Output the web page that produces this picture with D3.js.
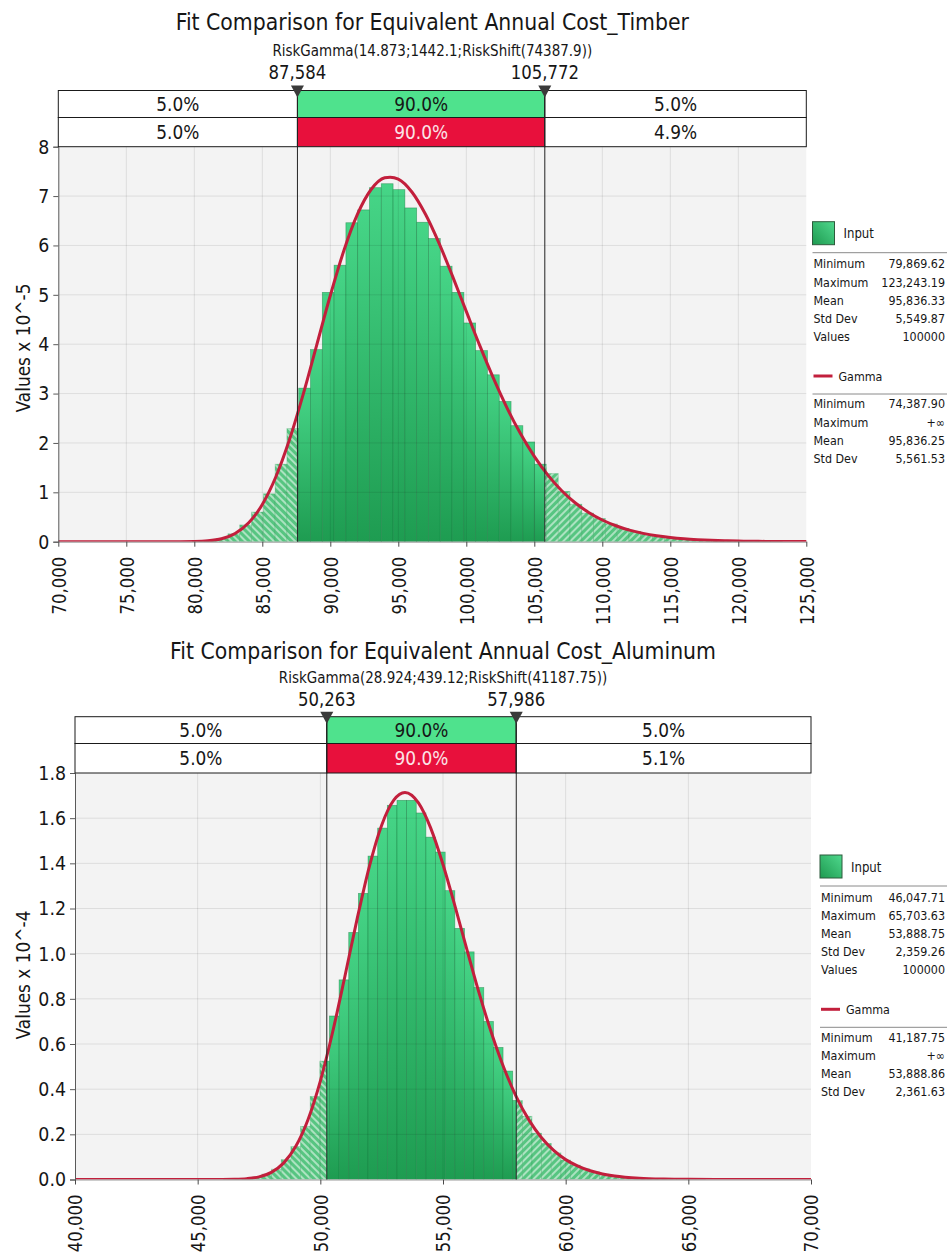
<!DOCTYPE html>
<html><head><meta charset="utf-8">
<script src="https://cdn.jsdelivr.net/npm/d3@7/dist/d3.min.js"></script>
<style>
body{margin:0;background:#fff;}
svg{display:block;}
text{font-family:"DejaVu Sans",Tahoma,Verdana,sans-serif;fill:#161616;}
</style>
</head><body>
<svg id="c" width="947" height="1255"></svg>
<script>
// ===================== DATA =====================
// ---- Timber ----
const timberTitle = "Fit Comparison for Equivalent Annual Cost_Timber";
const timberSubtitle = "RiskGamma(14.873;1442.1;RiskShift(74387.9))";
const timberMarkers = [87584, 105772];
const timberMarkerLabels = ["87,584", "105,772"];
const timberInputPct = ["5.0%", "90.0%", "5.0%"];
const timberFitPct = ["5.0%", "90.0%", "4.9%"];
const timberXTicks = [70000, 75000, 80000, 85000, 90000, 95000, 100000, 105000, 110000, 115000, 120000, 125000];
const timberYTicks = [0, 1, 2, 3, 4, 5, 6, 7, 8];
const timberYLabel = "Values x 10^-5";
const timberBinRange = [79869.62, 123243.19];
const timberBars = [0.01, 0.02, 0.06, 0.16, 0.34, 0.60, 0.97, 1.57, 2.29, 3.11,
  3.89, 5.05, 5.60, 6.46, 6.72, 7.17, 7.25, 7.13, 6.76, 6.47,
  6.14, 5.58, 5.05, 4.43, 3.87, 3.38, 2.84, 2.35, 2.02, 1.57,
  1.38, 1.02, 0.76, 0.58, 0.47, 0.36, 0.27, 0.21, 0.15, 0.11,
  0.085, 0.06, 0.045, 0.033, 0.024, 0.017, 0.012, 0.008, 0.006, 0.004];
const timberGammaX = [70000, 71000, 72000, 73000, 74000, 75000, 76000, 77000, 78000, 79000,
  80000, 81000, 82000, 83000, 84000, 85000, 86000, 87000, 88000, 89000,
  90000, 91000, 92000, 93000, 94000, 94400, 95000, 96000, 97000, 98000, 99000,
  100000, 101000, 102000, 103000, 104000, 105000, 106000, 107000, 108000, 109000,
  110000, 111000, 112000, 113000, 114000, 115000, 116000, 117000, 118000, 119000,
  120000, 121000, 122000, 123000, 124000, 125000];
const timberGammaY = [0, 0, 0, 0, 0, 0, 0, 0, 0, 0.0005,
  0.0035, 0.017, 0.060, 0.167, 0.382, 0.754, 1.315, 2.068, 2.979, 3.982,
  4.986, 5.898, 6.633, 7.133, 7.370, 7.383, 7.344, 7.083, 6.631, 6.042, 5.369,
  4.664, 3.965, 3.307, 2.707, 2.180, 1.727, 1.348, 1.038, 0.789, 0.592,
  0.440, 0.323, 0.234, 0.169, 0.120, 0.085, 0.059, 0.041, 0.028, 0.019,
  0.013, 0.009, 0.006, 0.004, 0.003, 0.002];
const timberInputStats = [["Minimum", "79,869.62"], ["Maximum", "123,243.19"], ["Mean", "95,836.33"], ["Std Dev", "5,549.87"], ["Values", "100000"]];
const timberGammaStats = [["Minimum", "74,387.90"], ["Maximum", "+\u221E"], ["Mean", "95,836.25"], ["Std Dev", "5,561.53"]];

// ---- Aluminum ----
const aluTitle = "Fit Comparison for Equivalent Annual Cost_Aluminum";
const aluSubtitle = "RiskGamma(28.924;439.12;RiskShift(41187.75))";
const aluMarkers = [50263, 57986];
const aluMarkerLabels = ["50,263", "57,986"];
const aluInputPct = ["5.0%", "90.0%", "5.0%"];
const aluFitPct = ["5.0%", "90.0%", "5.1%"];
const aluXTicks = [40000, 45000, 50000, 55000, 60000, 65000, 70000];
const aluYTicks = [0, 0.2, 0.4, 0.6, 0.8, 1.0, 1.2, 1.4, 1.6, 1.8];
const aluYLabel = "Values x 10^-4";
const aluBinRange = [46047.71, 65703.63];
const aluBars = [0.001, 0.002, 0.004, 0.011, 0.024, 0.046, 0.088, 0.146, 0.235, 0.368,
  0.524, 0.724, 0.884, 1.094, 1.267, 1.432, 1.556, 1.657, 1.679, 1.679,
  1.623, 1.516, 1.450, 1.279, 1.112, 1.008, 0.850, 0.700, 0.585, 0.480,
  0.350, 0.280, 0.205, 0.160, 0.118, 0.086, 0.064, 0.047, 0.034, 0.024,
  0.016, 0.011, 0.008, 0.005, 0.0035, 0.002, 0.0015, 0.001, 0.0006, 0.0004];
const aluGammaX = [40000, 42000, 44000, 45000, 46000, 46500, 47000, 47500, 48000, 48500,
  49000, 49500, 50000, 50500, 51000, 51500, 52000, 52500, 53000, 53450,
  54000, 54500, 55000, 55500, 56000, 56500, 57000, 57500, 58000, 58500,
  59000, 59500, 60000, 60500, 61000, 61500, 62000, 63000, 64000, 65000, 67000, 70000];
const aluGammaY = [0, 0, 0, 0, 0.0002, 0.0009, 0.0036, 0.0116, 0.0314, 0.0725,
  0.147, 0.266, 0.436, 0.652, 0.899, 1.154, 1.387, 1.569, 1.681, 1.714,
  1.668, 1.556, 1.395, 1.206, 1.008, 0.815, 0.641, 0.489, 0.364, 0.264,
  0.187, 0.130, 0.088, 0.059, 0.0385, 0.0247, 0.0156, 0.0059, 0.002, 0.0007, 0.0001, 0];
const aluInputStats = [["Minimum", "46,047.71"], ["Maximum", "65,703.63"], ["Mean", "53,888.75"], ["Std Dev", "2,359.26"], ["Values", "100000"]];
const aluGammaStats = [["Minimum", "41,187.75"], ["Maximum", "+\u221E"], ["Mean", "53,888.86"], ["Std Dev", "2,361.63"]];

// ===================== LAYOUT =====================
const SX = 0.87;
const layoutTimber = {x0: 58.3, x1: 806.3, yTop: 146.7, yBot: 541.7, boxTop: 90.5, boxMid: 117.5,
  titleY: 30, subY: 56, markY: 79, legendX: 812.5, legendTop: 221.7, yLabelX: 23, yLabelY: 348, yFmt: d3.format("d")};
const layoutAlu = {x0: 75, x1: 811, yTop: 773, yBot: 1179.5, boxTop: 716.7, boxMid: 743.5,
  titleY: 659, subY: 683, markY: 706, legendX: 820, legendTop: 855, yLabelX: 23, yLabelY: 975, yFmt: d3.format(".1f")};

const svg = d3.select("#c");
const defs = svg.append("defs");

const grad = defs.append("linearGradient").attr("id", "barGrad")
  .attr("x1", 0).attr("y1", 0).attr("x2", 0).attr("y2", 1);
grad.append("stop").attr("offset", "0%").attr("stop-color", "#46d587");
grad.append("stop").attr("offset", "100%").attr("stop-color", "#1e9c51");

const lgrad = defs.append("linearGradient").attr("id", "legGrad")
  .attr("x1", 1).attr("y1", 0).attr("x2", 0).attr("y2", 1);
lgrad.append("stop").attr("offset", "0%").attr("stop-color", "#4fd88d");
lgrad.append("stop").attr("offset", "100%").attr("stop-color", "#1e9a50");

function hatch(id, angle) {
  const p = defs.append("pattern").attr("id", id).attr("patternUnits", "userSpaceOnUse")
    .attr("width", 5).attr("height", 5).attr("patternTransform", `rotate(${angle})`);
  p.append("rect").attr("width", 5).attr("height", 5).attr("fill", "#57c581");
  p.append("line").attr("x1", 1).attr("y1", -1).attr("x2", 1).attr("y2", 6)
    .attr("stroke", "#ffffff").attr("stroke-width", 1.2).attr("stroke-opacity", 0.85);
}
hatch("hatchL", -45);
hatch("hatchR", 45);

function txt(sel, x, y, s, size, anchor, rot) {
  return sel.append("text")
    .attr("transform", `translate(${x},${y})${rot ? " rotate(" + rot + ")" : ""} scale(${SX},1)`)
    .attr("font-size", size).attr("text-anchor", anchor || "start").text(s);
}

function drawChart(id, L, d) {
  const g = svg.append("g");
  const x = d3.scaleLinear().domain([d.xTicks[0], d.xTicks[d.xTicks.length - 1]]).range([L.x0, L.x1]);
  const y = d3.scaleLinear().domain([0, d.yTicks[d.yTicks.length - 1]]).range([L.yBot, L.yTop]);
  const xm0 = x(d.markers[0]), xm1 = x(d.markers[1]);

  const clip = (cid, a, b) => defs.append("clipPath").attr("id", cid).append("rect")
    .attr("x", a).attr("y", L.yTop).attr("width", b - a).attr("height", L.yBot - L.yTop);
  clip(id + "-mid", xm0, xm1);
  clip(id + "-left", L.x0, xm0);
  clip(id + "-right", xm1, L.x1);
  clip(id + "-all", L.x0, L.x1 + 2);

  // titles
  txt(g, (L.x0 + L.x1) / 2, L.titleY, d.title, 23.5, "middle");
  txt(g, (L.x0 + L.x1) / 2, L.subY, d.subtitle, 15.5, "middle");

  // plot background
  g.append("rect").attr("x", L.x0).attr("y", L.yTop).attr("width", L.x1 - L.x0)
    .attr("height", L.yBot - L.yTop).attr("fill", "#f3f3f3");

  // bars
  const n = d.bars.length;
  const bw = (d.binRange[1] - d.binRange[0]) / n;
  const bins = d.bars.map((v, i) => ({a: d.binRange[0] + i * bw, b: d.binRange[0] + (i + 1) * bw, v}));
  const drawBars = (clipId, fill, stroke) => {
    g.append("g").attr("clip-path", `url(#${clipId})`)
      .selectAll("rect").data(bins).join("rect")
      .attr("x", b => x(b.a)).attr("width", b => x(b.b) - x(b.a))
      .attr("y", b => y(b.v)).attr("height", b => y(0) - y(b.v))
      .attr("fill", fill).attr("stroke", stroke).attr("stroke-width", 0.7);
  };
  drawBars(id + "-mid", "url(#barGrad)", "rgba(20,120,60,0.55)");
  drawBars(id + "-left", "url(#hatchL)", "rgba(40,150,80,0.35)");
  drawBars(id + "-right", "url(#hatchR)", "rgba(40,150,80,0.35)");

  // grid
  g.append("g").selectAll("line").data(d.xTicks.slice(1, -1)).join("line")
    .attr("x1", v => x(v)).attr("x2", v => x(v)).attr("y1", L.yTop).attr("y2", L.yBot)
    .attr("stroke", "#000").attr("stroke-opacity", 0.09);
  g.append("g").selectAll("line").data(d.yTicks.slice(1, -1)).join("line")
    .attr("x1", L.x0).attr("x2", L.x1).attr("y1", v => y(v)).attr("y2", v => y(v))
    .attr("stroke", "#000").attr("stroke-opacity", 0.09);

  // gamma curve
  const line = d3.line().x(p => x(p[0])).y(p => y(p[1])).curve(d3.curveMonotoneX);
  g.append("path").datum(d.gammaX.map((v, i) => [v, d.gammaY[i]]))
    .attr("clip-path", `url(#${id}-all)`)
    .attr("d", line).attr("fill", "none").attr("stroke", "#c21f3c").attr("stroke-width", 3)
    .attr("stroke-linejoin", "round");

  // axes
  const ya = g.append("g").attr("transform", `translate(${L.x0},0)`)
    .call(d3.axisLeft(y).tickValues(d.yTicks).tickFormat(L.yFmt).tickSize(5).tickPadding(6));
  ya.select(".domain").attr("stroke", "#5a5a5a");
  ya.selectAll(".tick line").attr("stroke", "#5a5a5a");
  ya.selectAll(".tick text").attr("font-size", 20).attr("font-family", "DejaVu Sans, Tahoma, sans-serif")
    .attr("fill", "#161616").attr("transform", `scale(${SX},1)`).attr("x", -9 / SX);

  const xa = g.append("g").attr("transform", `translate(0,${L.yBot})`)
    .call(d3.axisBottom(x).tickValues(d.xTicks).tickFormat(d3.format(",")).tickSize(5).tickSizeOuter(0));
  xa.select(".domain").attr("stroke", "#9a9a9a");
  xa.selectAll(".tick line").attr("stroke", "#4a4a4a");
  xa.selectAll(".tick text").attr("font-size", 19).attr("font-family", "DejaVu Sans, Tahoma, sans-serif")
    .attr("fill", "#161616").attr("text-anchor", "end")
    .attr("transform", `rotate(-90) scale(${SX},1)`)
    .attr("x", -15 / SX).attr("y", 0).attr("dy", "0.36em");

  // y label
  txt(g, L.yLabelX, L.yLabelY, d.yLabel, 19.5, "middle", -90).attr("dominant-baseline", "central");

  // percent box
  const segs = [[L.x0, xm0], [xm0, xm1], [xm1, L.x1]];
  const rows = [[L.boxTop, L.boxMid, d.inputPct], [L.boxMid, L.yTop, d.fitPct]];
  rows.forEach((r, ri) => {
    segs.forEach((s, si) => {
      g.append("rect").attr("x", s[0]).attr("y", r[0]).attr("width", s[1] - s[0]).attr("height", r[1] - r[0])
        .attr("fill", si === 1 ? (ri === 0 ? "#4fe28d" : "#e8103c") : "#ffffff")
        .attr("stroke", "#1a1a1a").attr("stroke-width", 1);
      const t = txt(g, (s[0] + s[1]) / 2, (r[0] + r[1]) / 2 + 7, r[2][si], 19.5, "middle");
      if (si === 1 && ri === 1) t.style("fill", "#fbe3e7");
    });
  });

  // marker lines, triangles, labels
  d.markers.forEach((m, i) => {
    const xm = x(m);
    g.append("line").attr("x1", xm).attr("x2", xm).attr("y1", L.boxTop).attr("y2", L.yBot)
      .attr("stroke", "#222").attr("stroke-width", 1);
    g.append("path").attr("d", `M${xm - 6.5},${L.boxTop - 5} L${xm + 6.5},${L.boxTop - 5} L${xm},${L.boxTop + 7} Z`)
      .attr("fill", "#3a3a3a");
    txt(g, xm, L.markY, d.markerLabels[i], 19, "middle");
  });

  // legend
  const lx = L.legendX, T = L.legendTop;
  g.append("rect").attr("x", lx).attr("y", T).attr("width", 22).attr("height", 23)
    .attr("fill", "url(#legGrad)").attr("stroke", "#2d5b3c").attr("stroke-width", 1);
  txt(g, lx + 31, T + 16.5, "Input", 13.5, "start");
  g.append("line").attr("x1", lx).attr("x2", 947).attr("y1", T + 31).attr("y2", T + 31).attr("stroke", "#8a8a8a");
  d.inputStats.forEach((s, i) => {
    txt(g, lx + 1, T + 46.6 + i * 18.2, s[0], 12.8, "start");
    txt(g, 945, T + 46.6 + i * 18.2, s[1], 12.8, "end");
  });
  g.append("line").attr("x1", lx + 1).attr("x2", lx + 20).attr("y1", T + 154.3).attr("y2", T + 154.3)
    .attr("stroke", "#c21f3c").attr("stroke-width", 3);
  txt(g, lx + 26, T + 158.8, "Gamma", 12.8, "start");
  g.append("line").attr("x1", lx).attr("x2", 947).attr("y1", T + 172.3).attr("y2", T + 172.3).attr("stroke", "#8a8a8a");
  d.gammaStats.forEach((s, i) => {
    txt(g, lx + 1, T + 186.6 + i * 18.2, s[0], 12.8, "start");
    txt(g, 945, T + 186.6 + i * 18.2, s[1], 12.8, "end");
  });
}

drawChart("tim", layoutTimber, {
  title: timberTitle, subtitle: timberSubtitle, markers: timberMarkers, markerLabels: timberMarkerLabels,
  inputPct: timberInputPct, fitPct: timberFitPct, xTicks: timberXTicks, yTicks: timberYTicks, yLabel: timberYLabel,
  binRange: timberBinRange, bars: timberBars, gammaX: timberGammaX, gammaY: timberGammaY,
  inputStats: timberInputStats, gammaStats: timberGammaStats
});
drawChart("alu", layoutAlu, {
  title: aluTitle, subtitle: aluSubtitle, markers: aluMarkers, markerLabels: aluMarkerLabels,
  inputPct: aluInputPct, fitPct: aluFitPct, xTicks: aluXTicks, yTicks: aluYTicks, yLabel: aluYLabel,
  binRange: aluBinRange, bars: aluBars, gammaX: aluGammaX, gammaY: aluGammaY,
  inputStats: aluInputStats, gammaStats: aluGammaStats
});
</script>
</body></html>
